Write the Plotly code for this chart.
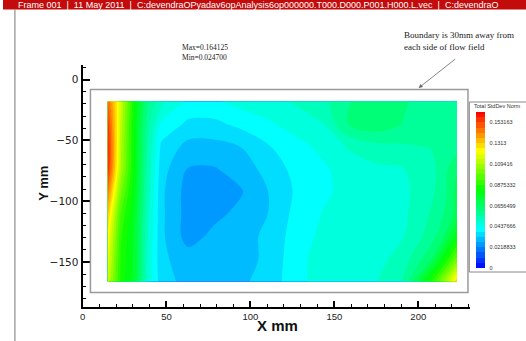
import plotly.graph_objects as go

W, H = 526, 341

# ---- data ----
x_mm = [15, 23, 31, 39, 47, 63, 79, 95, 111, 127, 143, 159, 175, 191, 207, 215, 223]
y_mm = [-18, -36.5, -55, -73.5, -92, -110.5, -129, -147.5, -166]
stddev = [
    [0.148, 0.115, 0.082, 0.060, 0.050, 0.043, 0.043, 0.046, 0.047, 0.050, 0.053, 0.060, 0.063, 0.061, 0.057, 0.057, 0.058],
    [0.156, 0.112, 0.080, 0.056, 0.043, 0.037, 0.037, 0.040, 0.043, 0.046, 0.049, 0.061, 0.064, 0.060, 0.056, 0.057, 0.058],
    [0.160, 0.110, 0.080, 0.054, 0.037, 0.031, 0.031, 0.033, 0.038, 0.042, 0.045, 0.050, 0.053, 0.054, 0.055, 0.056, 0.058],
    [0.158, 0.108, 0.080, 0.053, 0.035, 0.027, 0.027, 0.030, 0.035, 0.040, 0.043, 0.046, 0.048, 0.049, 0.052, 0.058, 0.065],
    [0.145, 0.100, 0.078, 0.052, 0.034, 0.025, 0.024, 0.027, 0.033, 0.039, 0.043, 0.045, 0.047, 0.048, 0.053, 0.058, 0.068],
    [0.132, 0.092, 0.076, 0.050, 0.034, 0.025, 0.026, 0.029, 0.033, 0.040, 0.044, 0.046, 0.046, 0.048, 0.055, 0.060, 0.068],
    [0.125, 0.088, 0.075, 0.049, 0.034, 0.025, 0.029, 0.031, 0.034, 0.041, 0.045, 0.046, 0.046, 0.049, 0.057, 0.065, 0.080],
    [0.120, 0.086, 0.075, 0.048, 0.034, 0.030, 0.030, 0.031, 0.034, 0.042, 0.046, 0.047, 0.047, 0.052, 0.064, 0.080, 0.100],
    [0.115, 0.085, 0.075, 0.048, 0.035, 0.031, 0.031, 0.032, 0.035, 0.042, 0.046, 0.048, 0.049, 0.055, 0.085, 0.105, 0.130],
]
v_max = 0.164125
v_min = 0.024700
cbar_vals = [0, 0.0218833, 0.0437666, 0.0656499, 0.0875332, 0.109416, 0.1313, 0.153163]
cbar_text = ["0", "0.0218833", "0.0437666", "0.0656499", "0.0875332", "0.109416", "0.1313", "0.153163"]
boundary_x = [4.7, 229.6]
boundary_y = [-175, -8.2]
banner = ("Frame 001  |  11 May 2011  |  C:devendraOPyadav6opAnalysis6op000000.T000.D000.P001.H000.L.vec"
          "  |  C:devendraO")

def px(x):
    return x / W

def py(y):
    return 1 - y / H

rainbow = [[0.0, "rgb(0,0,255)"], [0.25, "rgb(0,255,255)"], [0.5, "rgb(0,255,0)"],
           [0.75, "rgb(255,255,0)"], [1.0, "rgb(255,0,0)"]]

fig = go.Figure()
fig.add_trace(go.Contour(
    x=x_mm, y=y_mm, z=stddev,
    colorscale=rainbow, zmin=0, zmax=v_max,
    autocontour=False,
    contours=dict(start=0, end=v_max, size=v_max / 30, coloring="fill", showlines=False),
    line=dict(width=0),
    colorbar=dict(
        x=px(476), xanchor="left", y=py(112), yanchor="top",
        len=156, lenmode="pixels", thickness=9, thicknessmode="pixels",
        outlinewidth=0, tickvals=cbar_vals, ticktext=cbar_text,
        ticks="outside", ticklen=4, tickcolor="rgba(0,0,0,0)",
        tickfont=dict(family="Liberation Sans, Arial", size=5.5, color="#333"),
        xpad=0, ypad=0,
    ),
    hoverinfo="skip",
))

fig.update_layout(
    width=W, height=H,
    margin=dict(l=0, r=0, t=0, b=0),
    paper_bgcolor="white", plot_bgcolor="white",
    showlegend=False,
    xaxis=dict(
        domain=[px(80), px(470)], range=[0, 231],
        showline=True, linecolor="black", linewidth=2,
        ticks="inside", ticklen=6, tickwidth=1.5, tickcolor="black",
        tick0=0, dtick=50,
        minor=dict(dtick=10, ticks="inside", ticklen=3, tickwidth=1, tickcolor="black"),
        showgrid=False, zeroline=False, tickfont=dict(family="Liberation Sans, Arial", size=9.5, color="#222"),
        anchor="y",
    ),
    yaxis=dict(
        domain=[py(307), py(65)], range=[-187, 12],
        showline=True, linecolor="black", linewidth=2,
        ticks="inside", ticklen=7, tickwidth=1.5, tickcolor="black",
        tick0=0, dtick=50,
        minor=dict(dtick=10, ticks="inside", ticklen=3, tickwidth=1, tickcolor="black"),
        showgrid=False, zeroline=False, tickfont=dict(family="DejaVu Sans", size=10.5, color="#222"),
        anchor="x",
    ),
)

shapes = [
    dict(type="rect", xref="paper", yref="paper", x0=0, x1=1, y0=py(9.5), y1=1,
         fillcolor="#c30b0b", line=dict(width=0)),
    dict(type="line", xref="paper", yref="paper", x0=px(12), x1=px(12), y0=0, y1=py(9.5),
         line=dict(color="#777", width=1)),
    dict(type="rect", xref="x", yref="y", x0=boundary_x[0], x1=boundary_x[1],
         y0=boundary_y[0], y1=boundary_y[1], line=dict(color="#9a9a9a", width=1.5)),
    dict(type="rect", xref="paper", yref="paper", x0=px(469), x1=px(540), y0=py(272), y1=py(102),
         line=dict(color="#888", width=1)),
]
fig.update_layout(shapes=shapes)

annots = [
    dict(text=banner, x=px(13), y=py(4.8), xanchor="left", yanchor="middle",
         font=dict(family="Liberation Sans, Arial", size=9, color="white"), showarrow=False),
    dict(text=f"Max={v_max:.6f}<br>Min={v_min:.6f}", x=px(178), y=py(53), xanchor="left", yanchor="middle",
         align="left", font=dict(family="Liberation Serif, Times New Roman", size=7.5, color="#222"),
         showarrow=False),
    dict(text="Boundary is 30mm away from<br>each side of flow field", x=px(401), y=py(41),
         xanchor="left", yanchor="middle", align="left",
         font=dict(family="Liberation Serif, Times New Roman", size=9, color="#222"), showarrow=False),
    dict(text="", x=px(418), y=py(88), ax=38, ay=-30, showarrow=True,
         arrowhead=2, arrowsize=1, arrowwidth=0.8, arrowcolor="#666"),
    dict(text="<b>X mm</b>", x=px(276), y=py(325), xanchor="center", yanchor="middle",
         font=dict(family="Liberation Sans, Arial", size=15, color="#111"), showarrow=False),
    dict(text="<b>Y mm</b>", x=px(40), y=py(183), xanchor="center", yanchor="middle", textangle=-90,
         font=dict(family="Liberation Sans, Arial", size=13, color="#111"), showarrow=False),
    dict(text="Total StdDev Norm", x=px(472), y=py(106), xanchor="left", yanchor="middle",
         font=dict(family="Liberation Sans, Arial", size=5.5, color="#333"), showarrow=False),
]
for a in annots:
    a.setdefault("xref", "paper")
    a.setdefault("yref", "paper")
fig.update_layout(annotations=annots)

fig.write_html("out.html")
